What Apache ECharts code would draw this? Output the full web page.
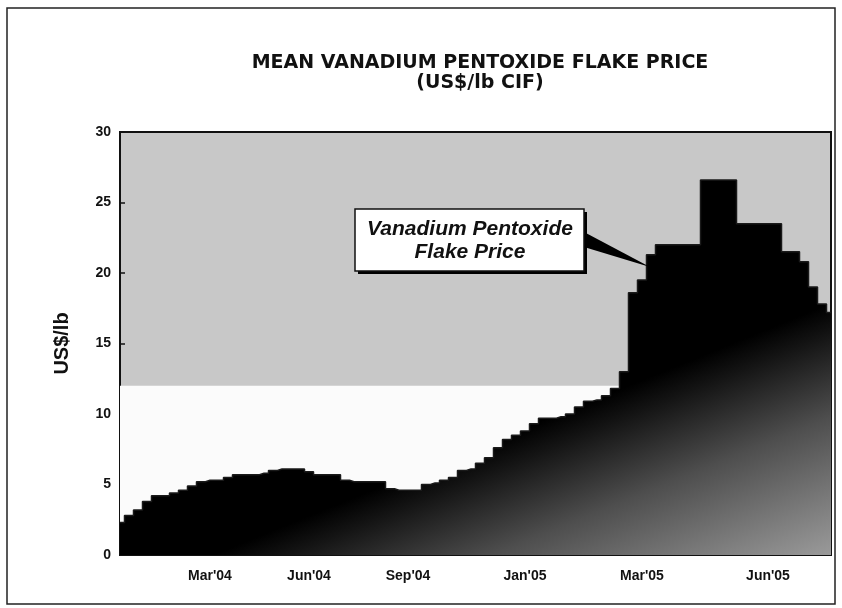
<!DOCTYPE html>
<html>
<head>
<meta charset="utf-8">
<script src="https://cdn.jsdelivr.net/npm/echarts@6/dist/echarts.min.js"></script>
<style>
html,body{margin:0;padding:0;background:#fff;}
#chart{width:842px;height:608px;}
</style>
</head>
<body>
<div id="chart"></div>
<script>
// ---- data ----
const periods = Array.from({length: 80}, (_, i) => 'P' + (i + 1));
const tickLabels = ["Mar'04", "Jun'04", "Sep'04", "Jan'05", "Mar'05", "Jun'05"];
const tickIndex = [10, 21, 32, 45, 58, 72];
const price = [
  2.3, 2.8, 3.2, 3.8, 4.2, 4.2, 4.4, 4.6, 4.9, 5.2,
  5.3, 5.3, 5.5, 5.7, 5.7, 5.7, 5.8, 6.0, 6.1, 6.1,
  6.1, 5.9, 5.7, 5.7, 5.7, 5.3, 5.2, 5.2, 5.2, 5.2,
  4.7, 4.6, 4.6, 4.6, 5.0, 5.1, 5.3, 5.5, 6.0, 6.1,
  6.5, 6.9, 7.6, 8.2, 8.5, 8.8, 9.3, 9.7, 9.7, 9.8,
  10.0, 10.5, 10.9, 11.0, 11.3, 11.8, 13.0, 18.6, 19.5, 21.3,
  22.0, 22.0, 22.0, 22.0, 22.0, 26.6, 26.6, 26.6, 26.6, 23.5,
  23.5, 23.5, 23.5, 23.5, 21.5, 21.5, 20.8, 19.0, 17.8, 17.2
];
const lowBand = 12;

const labelMap = {};
tickIndex.forEach((k, j) => { labelMap[k] = tickLabels[j]; });

const FONT = '"Liberation Sans Narrow", "Liberation Sans", Arial, sans-serif';
const TFONT = '"DejaVu Sans", "Liberation Sans", sans-serif';

const chart = echarts.init(document.getElementById('chart'), null, {renderer: 'canvas'});
chart.setOption({
  animation: false,
  backgroundColor: '#ffffff',
  title: {
    text: 'MEAN VANADIUM PENTOXIDE FLAKE PRICE',
    subtext: '(US$/lb CIF)',
    left: 475, top: 49, textAlign: 'center',
    itemGap: 1,
    textStyle: {fontFamily: TFONT, fontWeight: 'bold', fontSize: 19, color: '#111'},
    subtextStyle: {fontFamily: TFONT, fontWeight: 'bold', fontSize: 19, color: '#111'}
  },
  grid: {
    left: 120, right: 11, top: 132, bottom: 53,
    show: true, backgroundColor: '#c8c8c8', borderColor: '#111', borderWidth: 2
  },
  xAxis: {
    type: 'category',
    data: periods,
    boundaryGap: false,
    axisLine: {lineStyle: {color: '#111', width: 2}},
    axisTick: {show: false},
    axisLabel: {
      interval: (idx) => labelMap[idx] !== undefined,
      formatter: (v, idx) => labelMap[idx] || '',
      fontFamily: FONT, fontWeight: 'bold', fontSize: 14, color: '#111', margin: 14
    },
    splitLine: {show: false}
  },
  yAxis: {
    type: 'value',
    min: 0, max: 30, interval: 5,
    name: 'US$/lb',
    nameLocation: 'middle',
    nameGap: 48,
    nameTextStyle: {fontFamily: FONT, fontWeight: 'bold', fontSize: 20, color: '#111'},
    axisLine: {show: true, lineStyle: {color: '#111', width: 2}},
    axisTick: {show: true, inside: true, length: 5, lineStyle: {color: '#111', width: 1.5}},
    axisLabel: {fontFamily: FONT, fontWeight: 'bold', fontSize: 14, color: '#111', margin: 9},
    splitLine: {show: false}
  },
  series: [
    {
      type: 'line',
      data: [],
      silent: true,
      z: 1,
      markArea: {
        silent: true,
        itemStyle: {color: '#fbfbfb'},
        data: [[{yAxis: 0}, {yAxis: lowBand}]]
      }
    },
    {
      name: 'Vanadium Pentoxide Flake Price',
      type: 'line',
      data: price,
      step: 'middle',
      symbol: 'none',
      z: 3,
      lineStyle: {color: '#1a1a1a', width: 1.5},
      areaStyle: {
        opacity: 1,
        color: new echarts.graphic.LinearGradient(552, 417, 640, 633, [
          {offset: 0, color: '#000'},
          {offset: 0.12, color: '#141414'},
          {offset: 0.45, color: '#4e4e4e'},
          {offset: 1, color: '#9a9a9a'}
        ], true)
      }
    }
  ],
  graphic: [
    {type: 'rect', shape: {x: 7, y: 8, width: 828, height: 596},
     style: {fill: 'none', stroke: '#222', lineWidth: 1.5}, z: 100},
    {type: 'polygon', shape: {points: [[584, 232], [584, 247], [650, 267]]},
     style: {fill: '#000'}, z: 100},
    {type: 'rect', shape: {x: 358, y: 212, width: 229, height: 62},
     style: {fill: '#000'}, z: 100},
    {type: 'rect', shape: {x: 355, y: 209, width: 229, height: 62},
     style: {fill: '#fff', stroke: '#111', lineWidth: 1.5}, z: 101},
    {type: 'text', x: 470, y: 229, z: 102,
     style: {text: 'Vanadium Pentoxide', font: 'italic bold 21px ' + FONT, fill: '#111',
             align: 'center', verticalAlign: 'middle'}},
    {type: 'text', x: 470, y: 252, z: 102,
     style: {text: 'Flake Price', font: 'italic bold 21px ' + FONT, fill: '#111',
             align: 'center', verticalAlign: 'middle'}}
  ]
});
</script>
</body>
</html>
